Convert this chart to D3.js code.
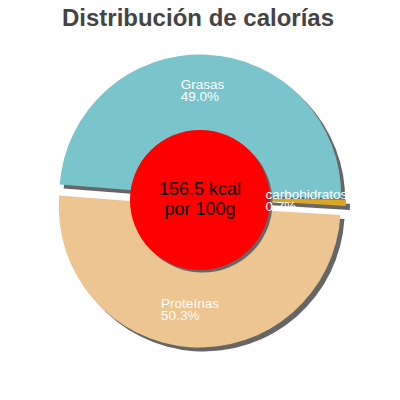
<!DOCTYPE html>
<html>
<head>
<meta charset="utf-8">
<script src="https://cdn.jsdelivr.net/npm/d3@7"></script>
<style>
  body { margin: 0; background: #fff; }
  text { font-family: "Liberation Sans", Arial, sans-serif; }
</style>
</head>
<body>
<div class="chart"></div>
<script>
const title = 'Distribución de calorías';
const categories = ['Grasas', 'carbohidratos', 'Proteínas'];
const percentages = [49.0, 0.7, 50.3];
const centerLines = ['156.5 kcal', 'por 100g'];

const width = 400;
const height = 400;
const cx = 200;
const cy = 200.5;
const radius = 141;

const colorScale = d3.scaleOrdinal()
  .domain(categories)
  .range(['#7ac4cc', '#daa520', '#edc591']);

// how far each slice is pulled out of the pie
const explode = {
  'Grasas': [0.2, -5],
  'carbohidratos': [5, -3],
  'Proteínas': [-0.3, 6]
};

const data = categories.map((c, i) => ({ name: c, value: percentages[i] }));

const svg = d3.select('.chart')
  .append('svg')
  .attr('width', width)
  .attr('height', height);

svg.append('text')
  .attr('x', 198)
  .attr('y', 26)
  .attr('text-anchor', 'middle')
  .style('font-size', '24px')
  .style('font-weight', 'bold')
  .attr('fill', '#444')
  .text(title);

const startDeg = -85.5;
const pie = d3.pie()
  .sort(null)
  .value(d => d.value)
  .startAngle(startDeg * Math.PI / 180)
  .endAngle((startDeg + 360) * Math.PI / 180);

const arcs = pie(data);

const arc = d3.arc().innerRadius(0).outerRadius(radius);
const labelArc = d3.arc().innerRadius(104).outerRadius(104);

const pos = (d, dx = 0, dy = 0) => {
  const o = explode[d.data.name];
  return `translate(${ cx + o[0] + dx }, ${ cy + o[1] + dy })`;
};

// shadows
svg.append('g')
  .selectAll('path')
  .data(arcs)
  .join('path')
  .attr('transform', d => pos(d, 4, 4))
  .attr('d', arc)
  .attr('fill', '#666');

svg.append('g')
  .selectAll('path')
  .data(arcs)
  .join('path')
  .attr('transform', d => pos(d))
  .attr('d', arc)
  .attr('fill', d => colorScale(d.data.name));

// centre disc
svg.append('circle')
  .attr('cx', 202.5)
  .attr('cy', 202.5)
  .attr('r', 70)
  .attr('fill', '#666');

svg.append('circle')
  .attr('cx', 200)
  .attr('cy', 200)
  .attr('r', 70)
  .attr('fill', '#ff0000');

svg.append('text')
  .attr('text-anchor', 'middle')
  .style('font-size', '18px')
  .attr('fill', '#000')
  .selectAll('tspan')
  .data(centerLines)
  .join('tspan')
  .attr('x', 200)
  .attr('y', (d, i) => 195 + i * 20)
  .text(d => d);

// slice labels: block centred, lines left aligned
const labels = svg.append('g')
  .selectAll('text')
  .data(arcs)
  .join('text')
  .attr('fill', '#fff')
  .style('font-size', '13.5px');

labels.each(function(d) {
  const t = d3.select(this);
  const o = explode[d.data.name];
  const c = labelArc.centroid(d);
  const lx = cx + o[0] + c[0] - 2.5;
  const ly = cy + o[1] + c[1] - 1.5;
  const l1 = t.append('tspan').attr('y', ly - 0.8).text(d.data.name);
  const w = l1.node().getComputedTextLength();
  l1.attr('x', lx - w / 2);
  t.append('tspan')
    .attr('x', lx - w / 2)
    .attr('y', ly + 10.8)
    .text(d3.format('.1f')(d.data.value) + '%');
});
</script>
</body>
</html>
